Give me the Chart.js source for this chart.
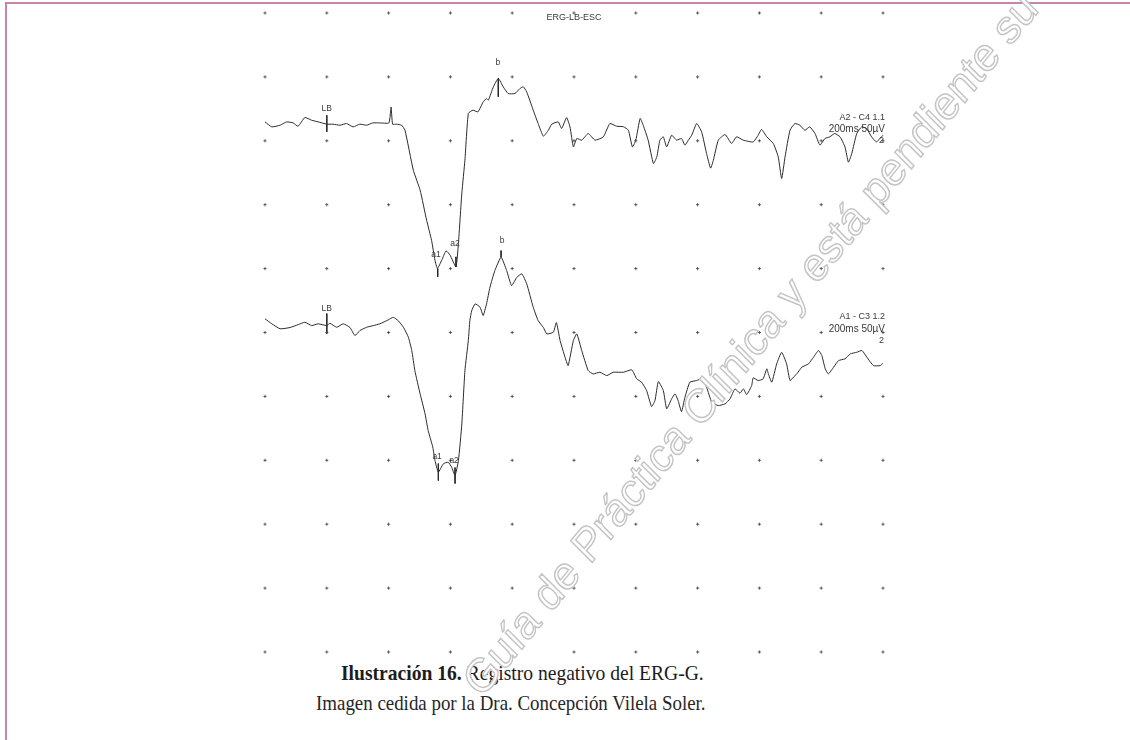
<!DOCTYPE html>
<html>
<head>
<meta charset="utf-8">
<script src="https://cdn.jsdelivr.net/npm/chart.js@4.4.0/dist/chart.umd.min.js"></script>
<style>
  html, body { margin: 0; padding: 0; background: #fff; }
  #page { position: relative; width: 1130px; height: 740px; overflow: hidden; background: #fff; }
  #borderTop { position: absolute; left: 5px; top: 2px; width: 1125px; height: 2px; background: #c985a8; }
  #borderLeft { position: absolute; left: 5px; top: 2px; width: 2px; height: 738px; background: #c985a8; }
  .cap { position: absolute; font-family: "Liberation Serif", "Times New Roman", serif; white-space: nowrap; line-height: 1; transform-origin: 0 0; }
  #cap1 { left: 341px; top: 662px; font-size: 22px; color: #1c1c1c; transform: scaleX(0.89); }
  #cap2 { left: 316px; top: 693px; font-size: 21px; color: #262626; transform: scaleX(0.9); }
  #chartBox { position: absolute; left: 0; top: 0; width: 1130px; height: 740px; z-index: 2; }
</style>
</head>
<body>
<div id="page">
  <div id="borderTop"></div>
  <div id="borderLeft"></div>
  <div class="cap" id="cap1"><b>Ilustración 16.</b> Registro negativo del ERG-G.</div>
  <div class="cap" id="cap2">Imagen cedida por la Dra. Concepción Vilela Soler.</div>
  <div id="chartBox"><canvas id="ergChart"></canvas></div>
</div>
<script>
// grid of the recording (ms per column, µV per row)
var sweepTimes = [0, 20, 40, 60, 80, 100, 120, 140, 160, 180, 200];
var gridLevels = [0, 50, 100, 150, 200, 250, 300, 350, 400, 450, 500];

var recordTitle = "ERG-LB-ESC";
var markerNames = ["LB", "a1", "a2", "b"];
var scaleText = "200ms 50µV";

// trace 1 (A2 - C4)
var trace1Name = "A2 - C4 1.1";
var trace1Offset = 413;
var trace1Time = [0,2.2,4.9,7.0,9.1,10.7,12.9,15.1,17.2,20.0,22.0,24.3,26.4,28.5,30.7,32.9,34.9,37.2,40.1,40.8,
  41.3,42.6,44.2,45.3,48.0,50.2,52.3,53.9,55.0,55.8,57.2,58.6,59.9,61.8,62.6,63.7,64.7,65.8,67.3,68.9,
  70.6,71.7,72.3,73.9,75.5,77.1,78.7,80.9,82.5,83.6,84.7,86.8,88.4,90.1,91.7,92.8,94.9,96.0,97.6,98.7,
  99.8,100.9,102.5,104.6,106.8,109.5,111.6,113.8,116.0,117.6,118.9,120.0,121.4,122.4,124.0,125.7,126.8,127.8,128.9,130.0,
  131.6,133.2,134.8,135.9,137.0,138.1,139.7,141.3,142.9,144.2,145.1,146.7,148.9,151.0,152.6,154.8,158.0,159.6,160.7,162.4,
  164.5,166.1,167.2,168.3,169.9,171.5,173.1,174.7,176.3,178.0,179.6,181.2,182.8,184.4,186.1,187.7,188.8,189.9,191.5,193.1,
  194.7,196.3,197.9,199.0,200.0];
var trace1Amp = [1.8,-2.1,-0.8,1.8,1.0,-1.6,5.2,3.1,1.8,0,0,-0.8,0.5,-2.1,0,-0.8,1.0,1.0,1.0,13.5,
  0,0,-0.8,-4.7,-36.0,-51.6,-75.1,-90.8,-106.4,-112.9,-106.4,-99.1,-102.5,-111.7,-93.1,-54.0,-28.2,8.4,11.0,9.6,
  17.4,20.1,18.8,29.2,35.8,29.2,24.0,24.0,27.9,29.2,25.3,11.0,0.5,-9.4,-4.7,0,1.8,-3.4,5.2,-2.1,
  -17.8,-11.2,-12.5,-7.3,-12.5,-9.9,0.5,-1.6,-2.0,-4.7,-17.8,-12.5,4.5,-0.8,-12.5,-30.8,-25.6,-12.5,-9.9,-17.8,
  -8.6,-12.5,-11.2,-16.4,-12.5,-8.6,0.5,-6.0,-22.9,-34.4,-28.2,-12.5,-8.1,-15.1,-9.9,-12.5,-13.9,-8.6,-4.1,-9.9,
  -15.1,-25.6,-42.5,-25.6,-4.7,0.5,-0.8,-4.7,-2.1,-7.3,-16.4,-11.2,-9.9,-7.3,-9.9,-17.8,-29.7,-22.9,-7.3,-2.1,
  -3.4,-9.9,-13.9,-11.2,-8.6];
var trace1MarkerTime = [20.0, 55.9, 61.8, 75.5];
var trace1TickTop = [7.0, -112.9, -103.8, 35.8];
var trace1TickBottom = [-6.0, -119.5, -111.7, 21.4];
var trace1LabelTime = [20.0, 55.3, 61.5, 75.4];
var trace1LabelAmp = [12.5, -101.7, -93.1, 48.5];

// trace 2 (A1 - C3)
var trace2Name = "A1 - C3 1.2";
var trace2Offset = 257;
var trace2Time = [0,2.2,4.9,8.1,10.8,12.9,15.1,17.2,20.0,21.0,23.2,25.3,27.5,29.1,30.7,32.9,35.0,37.2,39.9,41.5,
  43.1,44.8,46.4,47.5,48.5,50.2,51.8,52.8,54.3,55.0,56.1,57.7,59.3,60.4,61.5,62.6,63.7,64.7,65.8,66.3,
  66.9,68.0,69.6,70.6,71.7,72.8,74.4,76.4,78.2,79.8,81.5,83.1,84.7,86.8,88.4,90.1,91.2,93.3,94.3,95.5,
  97.1,98.1,99.8,100.9,102.5,104.6,106.2,108.4,110.6,112.7,116.0,118.7,120.3,121.9,123.5,125.1,126.2,127.3,128.9,130.0,
  131.6,132.7,133.7,134.8,135.9,137.5,139.7,141.3,142.9,144.6,146.7,148.9,150.5,152.1,153.7,154.8,155.9,157.5,158.0,159.6,
  161.2,162.4,162.9,164.0,165.6,167.2,168.8,169.9,171.0,172.1,173.7,175.9,177.5,179.1,180.2,181.3,182.3,184.0,185.6,187.7,
  189.4,191.5,193.2,194.8,196.9,199.1,200.0];
var trace2Amp = [3.7,-0.2,-4.1,-3.1,-0.8,1.0,-1.6,-0.2,-1.6,0.2,-2.9,-0.2,-3.1,-9.4,-5.5,-2.9,-1.6,-0.2,2.9,4.9,
  2.3,-2.9,-10.7,-21.1,-36.8,-55.0,-70.7,-83.7,-96.7,-107.1,-116.3,-109.8,-108.5,-112.4,-118.9,-107.2,-78.5,-36.8,-13.3,2.3,
  10.2,15.4,12.8,6.3,15.4,28.4,41.5,51.9,41.5,29.7,36.2,38.9,31.1,12.8,2.3,-3.1,-8.1,-6.8,0.8,-13.3,
  -26.4,-32.9,-13.3,-8.1,-21.1,-36.8,-39.4,-38.1,-40.7,-38.1,-38.1,-36.2,-43.3,-45.9,-52.4,-64.9,-60.3,-45.4,-52.4,-66.7,
  -58.9,-55.0,-60.3,-68.9,-57.7,-45.9,-44.6,-43.3,-49.8,-61.6,-64.2,-62.8,-58.9,-51.1,-54.5,-51.1,-55.6,-48.5,-42.5,-44.6,
  -43.3,-35.4,-39.4,-45.9,-31.5,-22.5,-31.5,-44.6,-42.0,-39.4,-34.2,-31.5,-26.4,-21.1,-25.0,-35.4,-39.4,-34.2,-29.0,-27.6,
  -23.7,-22.5,-21.1,-26.4,-32.9,-32.9,-31.1];
var trace2MarkerTime = [20.0, 56.1, 61.5, 76.4];
var trace2TickTop = [7.8, -109.5, -112.7, 57.1];
var trace2TickBottom = [-7.8, -122.9, -125.2, 51.9];
var trace2LabelTime = [20.0, 55.7, 61.2, 76.7];
var trace2LabelAmp = [11.7, -104.1, -107.2, 64.9];

var watermarkText = "Guía de Práctica Clínica y está pendiente su";

var traces = [
  {name: trace1Name, offset: trace1Offset, time: trace1Time, amp: trace1Amp,
   mTime: trace1MarkerTime, top: trace1TickTop, bottom: trace1TickBottom, lTime: trace1LabelTime, lAmp: trace1LabelAmp},
  {name: trace2Name, offset: trace2Offset, time: trace2Time, amp: trace2Amp,
   mTime: trace2MarkerTime, top: trace2TickTop, bottom: trace2TickBottom, lTime: trace2LabelTime, lAmp: trace2LabelAmp}
];

var datasets = [];

// dotted grid
var gridPoints = [];
sweepTimes.forEach(function(t){
  gridLevels.forEach(function(v){ gridPoints.push({x: t, y: v}); });
});
datasets.push({
  data: gridPoints, showLine: false, pointStyle: "cross", pointRadius: 1.6,
  borderColor: "rgba(60,60,60,0.8)", borderWidth: 1, clip: false
});

traces.forEach(function(tr){
  datasets.push({
    data: tr.time.map(function(t, i){ return {x: t, y: tr.offset + tr.amp[i]}; }),
    showLine: true, borderColor: "#2a2a2a", borderWidth: 1, pointRadius: 0,
    tension: 0.15, clip: false
  });
  tr.mTime.forEach(function(t, i){
    datasets.push({
      data: [{x: t, y: tr.offset + tr.top[i]}, {x: t, y: tr.offset + tr.bottom[i]}],
      showLine: true, borderColor: "#2a2a2a", borderWidth: 1, pointRadius: 0, clip: false
    });
  });
});

var textPlugin = {
  id: "ergText",
  afterDatasetsDraw: function(chart){
    var ctx = chart.ctx, area = chart.chartArea;
    var xs = chart.scales.x, ys = chart.scales.y;
    ctx.save();
    ctx.fillStyle = "#3a3a3a";
    ctx.textBaseline = "middle";
    ctx.textAlign = "center";
    ctx.font = '9px "Liberation Sans", Arial, sans-serif';
    ctx.fillText(recordTitle, (area.left + area.right) / 2, 18);

    traces.forEach(function(tr){
      ctx.textAlign = "center";
      ctx.font = '8.5px "Liberation Sans", Arial, sans-serif';
      markerNames.forEach(function(name, i){
        ctx.fillText(name, xs.getPixelForValue(tr.lTime[i]), ys.getPixelForValue(tr.offset + tr.lAmp[i]));
      });
      var base = ys.getPixelForValue(tr.offset);
      ctx.textAlign = "right";
      ctx.font = '9px "Liberation Sans", Arial, sans-serif';
      ctx.fillText(tr.name, area.right + 2, base - 7);
      ctx.font = '10px "Liberation Sans", Arial, sans-serif';
      ctx.fillText(scaleText, area.right + 2, base + 5.5);
      ctx.font = '9px "Liberation Sans", Arial, sans-serif';
      ctx.fillText("2", area.right + 1, base + 16.5);
    });
    ctx.restore();
  },
  afterDraw: function(chart){
    // watermark of the source document, squeezed like the rest of the scan
    var ctx = chart.ctx;
    ctx.save();
    ctx.translate(1040, 10);
    ctx.scale(0.9, 1);
    ctx.rotate(-48 * Math.PI / 180);
    ctx.font = '47px "Liberation Sans", Arial, sans-serif';
    ctx.textAlign = "right";
    ctx.textBaseline = "alphabetic";
    ctx.fillStyle = "#ffffff";
    ctx.fillText(watermarkText, 0, 0);
    ctx.lineWidth = 1.5;
    ctx.strokeStyle = "#c4c4c4";
    ctx.strokeText(watermarkText, 0, 0);
    ctx.restore();
  }
};

var ctx = document.getElementById("ergChart").getContext("2d");
new Chart(ctx, {
  type: "scatter",
  data: {datasets: datasets},
  options: {
    responsive: true,
    maintainAspectRatio: false,
    animation: false,
    devicePixelRatio: 1,
    layout: {padding: {left: 265, right: 247, top: 13, bottom: 88}},
    plugins: {legend: {display: false}, tooltip: {enabled: false}},
    scales: {
      x: {type: "linear", min: 0, max: 200, display: false},
      y: {type: "linear", min: 0, max: 500, display: false}
    }
  },
  plugins: [textPlugin]
});
</script>
</body>
</html>
